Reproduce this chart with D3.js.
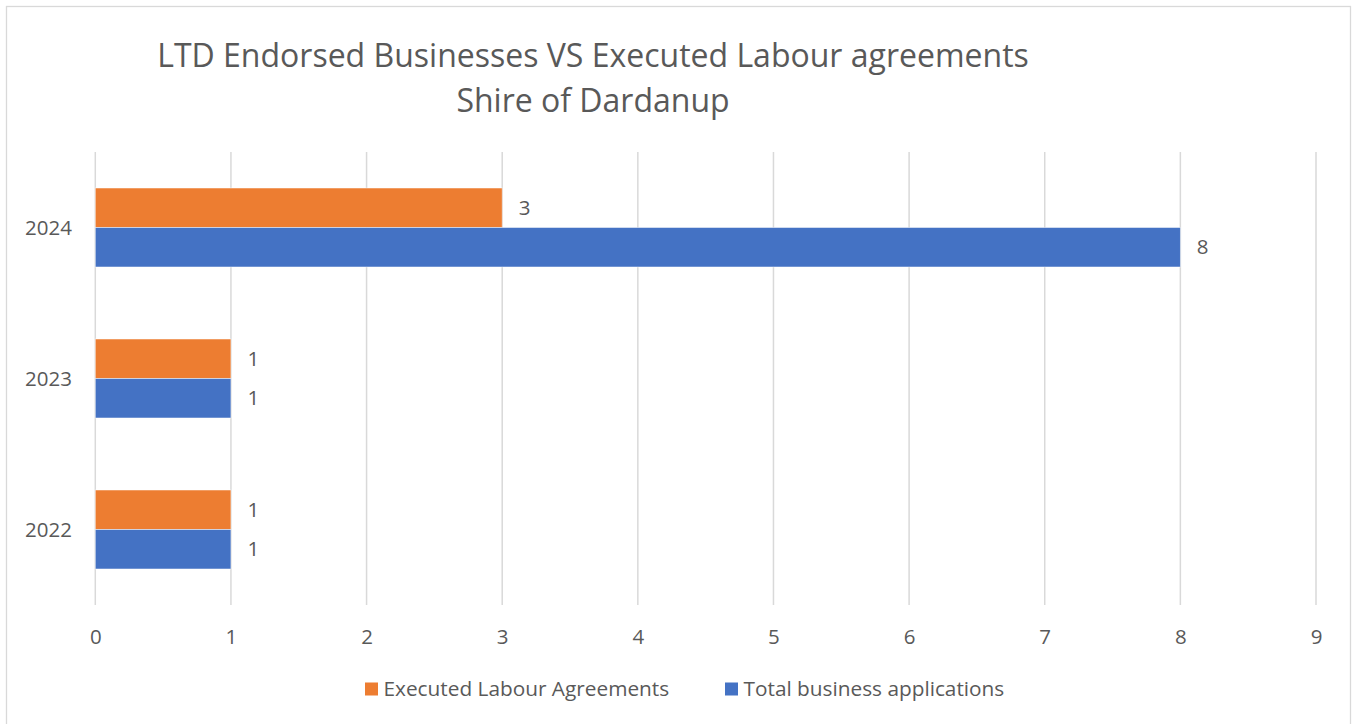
<!DOCTYPE html>
<html>
<head>
<meta charset="utf-8">
<script src="https://cdn.jsdelivr.net/npm/d3@7"></script>
<style>
  html, body { margin: 0; padding: 0; background: #fff; }
  svg { display: block; }
  text { font-family: "Open Sans", "Noto Sans", sans-serif; fill: #595959; }
</style>
</head>
<body>
<svg id="chart" width="1359" height="724"></svg>
<script>
// ---- data ----
const categories = ["2024", "2023", "2022"];
const seriesNames = ["Executed Labour Agreements", "Total business applications"];
const executedLabourAgreements = [3, 1, 1];
const totalBusinessApplications = [8, 1, 1];
const xTicks = [0, 1, 2, 3, 4, 5, 6, 7, 8, 9];
const titleLines = ["LTD Endorsed Businesses VS Executed Labour agreements", "Shire of Dardanup"];

// ---- style ----
const colors = ["#ED7D31", "#4472C4"];
const W = 1359, H = 724;
const margin = { left: 95.3, right: W - 1316, top: 152, bottom: H - 605 };

const svg = d3.select("#chart");

// chart frame
svg.append("rect")
  .attr("x", 6.5).attr("y", 6.5)
  .attr("width", 1344).attr("height", 740)
  .attr("fill", "#fff").attr("stroke", "#d9d9d9").attr("stroke-width", 1.3);

// title
svg.append("g").selectAll("text").data(titleLines).join("text")
  .attr("x", 593)
  .attr("y", (d, i) => 67 + i * 45)
  .attr("text-anchor", "middle")
  .attr("font-size", 32)
  .text(d => d);

const x = d3.scaleLinear().domain([0, 9]).range([margin.left, W - margin.right]);
const y0 = d3.scaleBand().domain(categories)
  .range([margin.top, H - margin.bottom])
  .paddingInner(0.477).paddingOuter(0.2385);
const y1 = d3.scaleBand().domain(seriesNames).range([0, y0.bandwidth()]);

// gridlines
svg.append("g").selectAll("line").data(xTicks).join("line")
  .attr("x1", d => x(d)).attr("x2", d => x(d))
  .attr("y1", margin.top).attr("y2", H - margin.bottom)
  .attr("stroke", "#d9d9d9").attr("stroke-width", 1.5);

// x axis labels
const xAxis = d3.axisBottom(x).tickValues(xTicks).tickSize(0).tickPadding(0).tickFormat(d3.format("d"));
const gx = svg.append("g").attr("transform", `translate(0, ${H - margin.bottom})`).call(xAxis);
gx.select(".domain").remove();
gx.selectAll("text").attr("dy", null).attr("y", 39).attr("font-size", 20.5)
  .style("fill", "#595959");
gx.attr("font-family", null).attr("font-size", null);

// y axis labels
const yAxis = d3.axisLeft(y0).tickSize(0).tickPadding(0);
const gy = svg.append("g").attr("transform", `translate(72, 0)`).call(yAxis);
gy.select(".domain").remove();
gy.selectAll("text").attr("dy", "0.35em").attr("x", 0).attr("font-size", 20.5)
  .style("fill", "#595959");
gy.attr("font-family", null).attr("font-size", null);

// bars
const rows = categories.map((c, i) => ({
  cat: c,
  vals: [
    { s: seriesNames[0], v: executedLabourAgreements[i], c: colors[0] },
    { s: seriesNames[1], v: totalBusinessApplications[i], c: colors[1] }
  ]
}));

const groups = svg.append("g").selectAll("g").data(rows).join("g")
  .attr("transform", d => `translate(0, ${y0(d.cat)})`);

groups.selectAll("rect").data(d => d.vals).join("rect")
  .attr("x", x(0))
  .attr("y", d => y1(d.s))
  .attr("width", d => x(d.v) - x(0))
  .attr("height", y1.bandwidth())
  .attr("fill", d => d.c)
  .attr("stroke", "#ffffff").attr("stroke-opacity", 0.6).attr("stroke-width", 0.8);

groups.selectAll("text").data(d => d.vals).join("text")
  .attr("x", d => x(d.v) + 16.5)
  .attr("y", d => y1(d.s) + y1.bandwidth() / 2)
  .attr("dy", "0.35em")
  .attr("font-size", 20.5)
  .text(d => d.v);

// legend
const legendItems = [
  { name: seriesNames[0], color: colors[0], x: 365 },
  { name: seriesNames[1], color: colors[1], x: 725 }
];
const lg = svg.append("g").selectAll("g").data(legendItems).join("g")
  .attr("transform", d => `translate(${d.x}, 689)`);
lg.append("rect").attr("x", 0).attr("y", -6.5).attr("width", 13).attr("height", 13)
  .attr("fill", d => d.color);
lg.append("text").attr("x", 18.5).attr("dy", "0.35em").attr("font-size", 20.8).text(d => d.name);
</script>
</body>
</html>
